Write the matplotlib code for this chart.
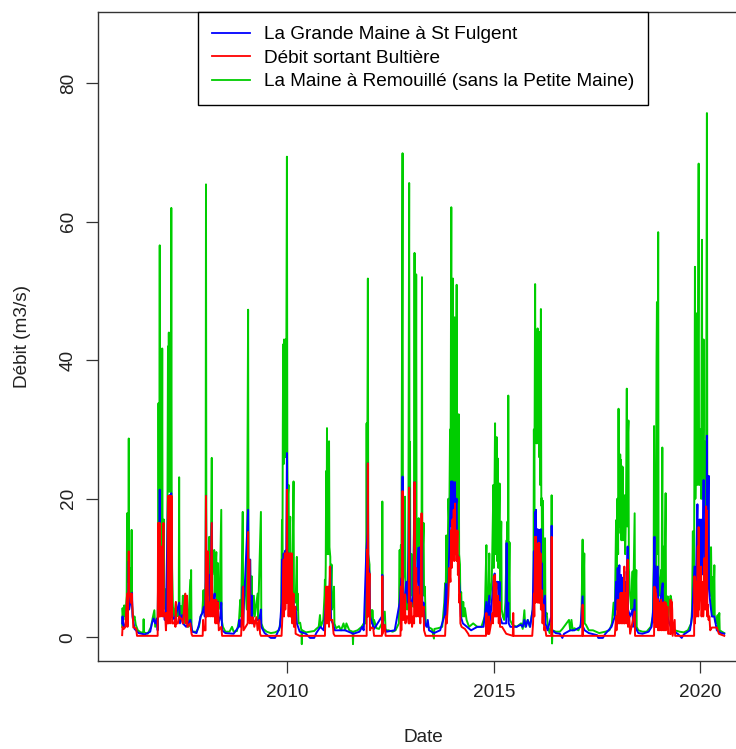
import matplotlib
matplotlib.use("Agg")
import matplotlib.pyplot as plt

plt.rcParams['font.family'] = ['Liberation Sans', 'DejaVu Sans']

# ---- data (decimal year, flow m3/s) ----
series_labels = ["La Grande Maine à St Fulgent", "Débit sortant Bultière",
                 "La Maine à Remouillé (sans la Petite Maine)"]
series_colors = ["#0000FF", "#FF0000", "#00CD00"]
x_ticks = [2010, 2015, 2020]
y_ticks = [0, 20, 40, 60, 80]

remouille_pts = [
(2006.00,1.5),(2006.01,4.2),(2006.03,2.5),(2006.05,4.6),(2006.08,3.0),(2006.11,6.0),(2006.12,17.9),(2006.13,8.0),(2006.15,12.0),(2006.16,28.7),(2006.17,9.0),(2006.19,6.3),(2006.21,10.0),(2006.22,5.5),(2006.23,15.5),(2006.24,4.5),(2006.27,2.5),(2006.30,3.0),(2006.33,1.8),(2006.38,1.0),(2006.45,0.7),(2006.51,0.7),(2006.52,2.6),(2006.53,0.7),(2006.62,0.5),(2006.70,1.5),(2006.74,2.8),(2006.78,3.9),(2006.80,1.5),(2006.84,2.5),(2006.86,1.8),
(2006.87,8.0),(2006.88,33.8),(2006.89,15.0),(2006.90,18.0),(2006.91,56.6),(2006.92,14.0),(2006.93,18.0),(2006.94,10.0),(2006.96,16.0),(2006.97,41.7),(2006.98,9.0),(2007.00,6.0),(2007.01,17.0),(2007.02,5.0),(2007.05,4.0),(2007.07,7.0),(2007.09,4.5),(2007.11,42.0),(2007.12,22.0),(2007.13,44.0),(2007.14,21.0),(2007.15,43.0),(2007.16,22.0),(2007.17,44.0),(2007.18,21.0),(2007.19,62.0),(2007.20,20.0),(2007.21,10.0),(2007.23,4.4),(2007.26,3.0),(2007.30,4.9),(2007.32,3.0),(2007.35,4.0),(2007.37,3.0),(2007.38,23.1),(2007.39,3.0),(2007.42,4.5),(2007.45,3.0),(2007.47,6.0),(2007.49,2.0),(2007.52,6.2),(2007.54,2.0),(2007.58,3.5),(2007.60,1.5),(2007.65,8.3),(2007.66,1.5),(2007.67,9.7),(2007.68,1.0),(2007.72,0.8),(2007.80,0.8),(2007.86,1.5),(2007.90,3.0),(2007.94,3.5),(2007.97,6.8),(2007.99,4.0),
(2008.02,8.0),(2008.03,65.4),(2008.04,9.0),(2008.07,11.0),(2008.08,6.0),(2008.11,14.5),(2008.12,7.0),(2008.15,12.0),(2008.17,25.9),(2008.18,9.0),(2008.20,11.0),(2008.23,12.6),(2008.24,6.0),(2008.26,10.0),(2008.28,12.3),(2008.29,5.0),(2008.32,10.7),(2008.33,4.0),(2008.36,5.0),(2008.40,18.4),(2008.41,2.5),(2008.44,1.5),(2008.50,0.8),(2008.60,0.8),(2008.66,1.5),(2008.70,0.8),(2008.78,0.9),(2008.83,2.5),(2008.86,5.4),(2008.88,3.0),(2008.92,18.1),(2008.93,5.0),(2008.97,8.0),
(2009.00,6.0),(2009.02,4.0),(2009.05,47.3),(2009.06,10.0),(2009.10,11.2),(2009.11,4.0),(2009.14,8.8),(2009.15,3.0),(2009.19,6.0),(2009.21,3.0),(2009.28,6.3),(2009.29,2.5),(2009.36,18.1),(2009.37,2.0),(2009.42,1.2),(2009.50,0.8),(2009.60,0.6),(2009.70,0.7),(2009.80,1.0),(2009.85,3.0),(2009.87,16.9),(2009.88,8.0),(2009.89,30.0),(2009.90,42.3),(2009.91,25.0),(2009.92,43.0),(2009.93,28.0),(2009.94,42.7),(2009.95,26.0),(2009.96,43.0),(2009.97,30.0),(2009.99,69.4),
(2010.00,26.0),(2010.01,20.0),(2010.03,22.0),(2010.04,12.0),(2010.07,17.4),(2010.08,8.0),(2010.11,12.0),(2010.12,6.0),(2010.15,22.5),(2010.16,6.0),(2010.20,5.0),(2010.23,11.6),(2010.24,4.0),(2010.25,6.3),(2010.27,2.0),(2010.31,2.1),(2010.34,1.0),(2010.35,-1.0),(2010.36,1.0),(2010.45,0.7),(2010.55,0.8),(2010.65,0.9),(2010.70,1.2),(2010.76,1.5),(2010.79,3.2),(2010.81,1.5),(2010.87,2.5),(2010.90,6.0),(2010.91,8.3),(2010.92,5.0),(2010.93,10.5),(2010.94,24.0),(2010.95,12.0),(2010.96,30.2),(2010.97,14.0),(2010.98,24.0),(2010.99,12.0),
(2011.00,26.0),(2011.01,28.3),(2011.02,13.0),(2011.04,11.6),(2011.05,5.0),(2011.07,10.5),(2011.08,4.0),(2011.11,5.0),(2011.13,7.3),(2011.14,2.0),(2011.18,1.3),(2011.25,1.6),(2011.30,1.0),(2011.36,2.0),(2011.40,1.0),(2011.43,2.0),(2011.50,1.0),(2011.58,0.8),(2011.59,-1.0),(2011.60,0.8),(2011.70,1.0),(2011.80,1.5),(2011.85,2.0),(2011.90,2.0),(2011.91,10.7),(2011.92,30.9),(2011.93,12.0),(2011.95,51.8),(2011.96,12.0),(2011.99,10.5),
(2012.00,3.0),(2012.04,3.9),(2012.05,2.0),(2012.06,3.9),(2012.08,1.5),(2012.10,2.5),(2012.16,1.3),(2012.22,1.2),(2012.29,2.0),(2012.30,19.6),(2012.31,2.0),(2012.36,3.7),(2012.38,1.0),(2012.45,1.0),(2012.55,0.8),(2012.62,1.0),(2012.70,2.0),(2012.72,12.6),(2012.73,4.0),(2012.75,13.3),(2012.76,6.0),(2012.79,69.9),(2012.80,8.0),(2012.83,10.0),(2012.85,20.3),(2012.86,5.0),(2012.88,8.0),(2012.90,4.0),(2012.93,12.0),(2012.95,65.6),(2012.96,10.0),(2012.97,28.2),(2012.98,6.0),
(2013.01,12.0),(2013.03,5.0),(2013.05,4.4),(2013.07,20.0),(2013.08,55.5),(2013.09,15.0),(2013.11,25.0),(2013.12,52.4),(2013.13,12.0),(2013.16,10.0),(2013.18,17.2),(2013.19,6.0),(2013.22,8.0),(2013.25,12.0),(2013.26,52.0),(2013.27,10.0),(2013.30,16.5),(2013.31,6.0),(2013.33,7.3),(2013.35,2.0),(2013.40,1.5),(2013.50,1.2),(2013.55,-0.2),(2013.56,1.2),(2013.65,1.3),(2013.75,1.5),(2013.80,5.0),(2013.82,7.8),(2013.83,3.0),(2013.85,14.7),(2013.86,4.0),(2013.88,10.0),(2013.90,20.0),(2013.92,16.0),(2013.94,30.0),(2013.95,18.0),(2013.97,62.1),(2013.98,20.0),(2013.99,46.0),
(2014.00,18.0),(2014.01,51.8),(2014.02,17.0),(2014.03,44.0),(2014.04,20.0),(2014.05,46.2),(2014.06,17.0),(2014.07,40.0),(2014.08,19.0),(2014.10,50.9),(2014.11,16.0),(2014.13,30.0),(2014.14,15.0),(2014.15,32.2),(2014.16,12.0),(2014.18,10.5),(2014.19,5.0),(2014.21,6.5),(2014.22,4.7),(2014.24,3.0),(2014.26,5.1),(2014.28,3.0),(2014.30,4.2),(2014.34,2.5),(2014.40,1.5),(2014.50,2.0),(2014.60,1.5),(2014.70,1.5),(2014.78,3.0),(2014.82,13.3),(2014.83,4.0),(2014.86,3.0),(2014.89,12.1),(2014.90,5.0),(2014.95,8.0),(2014.97,15.0),(2014.99,22.0),
(2015.00,10.0),(2015.02,25.0),(2015.03,30.9),(2015.04,12.0),(2015.06,24.0),(2015.07,28.9),(2015.08,11.0),(2015.10,25.8),(2015.11,10.0),(2015.13,18.0),(2015.14,22.2),(2015.15,8.0),(2015.18,16.7),(2015.19,4.0),(2015.22,3.0),(2015.25,2.5),(2015.28,5.0),(2015.31,14.0),(2015.32,5.0),(2015.33,16.7),(2015.34,6.0),(2015.35,34.9),(2015.36,5.0),(2015.38,13.7),(2015.39,2.5),(2015.45,1.8),(2015.55,1.5),(2015.66,2.0),(2015.70,1.2),(2015.74,3.9),(2015.76,1.5),(2015.82,2.5),(2015.87,1.5),(2015.94,3.9),(2015.96,6.0),(2015.97,30.0),(2015.98,18.0),(2015.99,35.0),
(2016.00,51.0),(2016.01,30.0),(2016.02,44.0),(2016.03,28.0),(2016.04,44.0),(2016.05,30.0),(2016.06,44.6),(2016.07,28.0),(2016.09,40.0),(2016.10,26.0),(2016.11,44.1),(2016.12,22.0),(2016.14,47.4),(2016.15,19.0),(2016.16,20.1),(2016.17,10.0),(2016.19,19.7),(2016.20,8.0),(2016.21,9.7),(2016.22,5.0),(2016.24,14.3),(2016.25,3.0),(2016.28,3.5),(2016.31,1.5),(2016.35,0.6),(2016.39,2.0),(2016.40,20.5),(2016.41,-0.9),(2016.42,1.0),(2016.50,0.8),(2016.60,0.8),(2016.66,1.2),(2016.82,2.5),(2016.85,1.0),(2016.88,2.5),(2016.91,1.0),(2016.95,1.3),
(2017.05,1.0),(2017.12,2.0),(2017.15,14.1),(2017.16,3.0),(2017.19,12.1),(2017.20,2.0),(2017.23,1.8),(2017.30,1.0),(2017.40,1.0),(2017.55,0.6),(2017.70,0.8),(2017.80,1.0),(2017.86,2.0),(2017.90,5.0),(2017.93,3.0),(2017.96,16.9),(2017.97,8.0),(2017.99,20.0),
(2018.01,12.0),(2018.02,33.0),(2018.03,16.0),(2018.05,20.0),(2018.06,26.4),(2018.07,15.0),(2018.08,25.6),(2018.09,14.0),(2018.10,24.7),(2018.11,16.0),(2018.12,24.6),(2018.13,14.0),(2018.15,18.0),(2018.17,20.5),(2018.18,12.0),(2018.20,18.0),(2018.22,35.9),(2018.23,16.0),(2018.24,28.0),(2018.26,31.3),(2018.27,10.0),(2018.30,6.0),(2018.33,4.0),(2018.36,9.5),(2018.37,3.0),(2018.41,17.9),(2018.42,3.0),(2018.45,9.7),(2018.46,1.5),(2018.50,1.0),(2018.60,0.8),(2018.70,0.8),(2018.80,1.5),(2018.85,3.0),(2018.87,10.0),(2018.88,30.5),(2018.89,14.0),(2018.91,14.2),(2018.92,8.0),(2018.94,40.0),(2018.95,48.4),(2018.96,12.0),(2018.98,58.5),(2018.99,9.0),
(2019.02,6.0),(2019.05,9.7),(2019.06,4.0),(2019.08,27.4),(2019.09,5.0),(2019.12,13.1),(2019.13,4.0),(2019.16,20.8),(2019.17,4.0),(2019.21,5.9),(2019.22,2.0),(2019.25,5.0),(2019.28,6.0),(2019.30,5.4),(2019.31,1.5),(2019.38,1.0),(2019.50,0.8),(2019.60,0.7),(2019.70,1.0),(2019.78,2.0),(2019.80,4.0),(2019.82,15.3),(2019.83,5.0),(2019.85,12.0),(2019.86,30.0),(2019.87,53.5),(2019.88,20.0),(2019.90,30.0),(2019.92,46.8),(2019.93,22.0),(2019.94,35.0),(2019.96,68.4),(2019.97,22.0),(2019.99,22.0),
(2020.00,30.0),(2020.02,20.0),(2020.04,57.4),(2020.05,20.0),(2020.07,30.0),(2020.08,43.0),(2020.09,19.0),(2020.10,28.3),(2020.11,18.0),(2020.14,25.0),(2020.16,75.7),(2020.17,20.0),(2020.20,23.3),(2020.21,8.0),(2020.24,6.0),(2020.26,13.0),(2020.28,4.0),(2020.30,8.7),(2020.31,3.0),(2020.34,10.4),(2020.35,2.5),(2020.38,2.0),(2020.42,3.2),(2020.43,1.0),(2020.46,3.5),(2020.47,1.0),(2020.52,0.8),(2020.58,0.6)]

stfulgent_pts = [
(2006.00,2.0),(2006.01,3.0),(2006.03,1.5),(2006.06,1.5),(2006.10,2.5),(2006.13,6.0),(2006.14,3.0),(2006.16,11.0),(2006.17,4.0),(2006.20,5.0),(2006.24,6.4),(2006.25,3.0),(2006.30,1.2),(2006.40,0.6),(2006.55,0.4),(2006.68,0.8),(2006.72,2.0),(2006.76,2.7),(2006.80,2.0),(2006.84,2.7),(2006.86,1.0),
(2006.88,16.0),(2006.89,6.0),(2006.91,21.3),(2006.92,8.0),(2006.95,10.0),(2006.97,13.0),(2006.98,4.0),(2007.01,3.5),(2007.03,2.5),(2007.06,3.0),(2007.11,20.0),(2007.12,5.0),(2007.14,20.5),(2007.15,4.0),(2007.17,20.5),(2007.19,20.8),(2007.20,4.0),(2007.22,3.0),(2007.27,2.5),(2007.38,5.0),(2007.40,2.0),(2007.45,3.2),(2007.47,2.0),(2007.55,1.5),(2007.65,2.5),(2007.70,0.8),(2007.80,0.6),(2007.86,1.8),(2007.90,3.0),(2007.94,3.5),(2007.98,4.4),
(2008.00,3.0),(2008.02,6.0),(2008.03,20.4),(2008.04,5.0),(2008.07,7.0),(2008.11,9.0),(2008.12,4.0),(2008.17,16.5),(2008.18,4.0),(2008.21,5.0),(2008.24,6.3),(2008.25,3.0),(2008.28,4.0),(2008.32,5.1),(2008.33,2.0),(2008.38,3.0),(2008.40,5.0),(2008.42,1.0),(2008.50,0.6),(2008.70,0.5),(2008.82,1.5),(2008.84,2.5),(2008.86,1.5),(2008.90,3.0),(2008.92,7.3),(2008.93,2.0),
(2009.05,18.4),(2009.06,4.0),(2009.10,11.2),(2009.11,3.0),(2009.14,6.0),(2009.15,2.0),(2009.25,2.5),(2009.32,2.5),(2009.36,4.0),(2009.37,1.5),(2009.45,0.6),(2009.60,-0.1),(2009.70,-0.1),(2009.75,0.5),(2009.82,1.5),(2009.86,5.0),(2009.87,11.2),(2009.88,4.0),(2009.91,12.1),(2009.93,6.0),(2009.95,12.5),(2009.97,8.0),(2009.99,26.6),
(2010.00,8.0),(2010.03,12.1),(2010.04,5.0),(2010.07,12.0),(2010.08,4.0),(2010.15,6.0),(2010.16,3.0),(2010.20,4.4),(2010.23,2.0),(2010.30,0.8),(2010.45,0.5),(2010.55,-0.1),(2010.65,-0.1),(2010.70,0.6),(2010.80,1.5),(2010.88,1.0),(2010.92,4.0),(2010.96,6.8),(2010.97,3.0),
(2011.01,5.0),(2011.04,10.2),(2011.05,5.5),(2011.06,2.5),(2011.10,2.0),(2011.15,1.0),(2011.30,1.0),(2011.40,1.0),(2011.60,0.5),(2011.75,0.8),(2011.81,1.5),(2011.85,1.0),(2011.91,12.0),(2011.94,15.0),(2011.95,25.1),(2011.96,10.5),(2011.99,9.2),
(2012.00,3.0),(2012.10,1.2),(2012.29,3.0),(2012.30,9.0),(2012.31,2.0),(2012.40,0.8),(2012.60,1.0),(2012.72,5.0),(2012.76,8.5),(2012.77,4.0),(2012.79,23.2),(2012.80,5.0),(2012.85,6.0),(2012.88,8.0),(2012.92,5.0),(2012.95,21.6),(2012.97,11.2),(2012.98,4.0),
(2013.05,6.0),(2013.08,22.4),(2013.09,5.0),(2013.13,8.0),(2013.17,12.9),(2013.18,6.0),(2013.21,13.0),(2013.22,5.0),(2013.26,17.8),(2013.27,4.0),(2013.30,5.0),(2013.33,2.0),(2013.37,1.5),(2013.40,2.5),(2013.43,1.0),(2013.55,0.6),(2013.70,1.0),(2013.80,3.0),(2013.84,7.7),(2013.85,3.0),(2013.90,8.0),(2013.93,15.0),(2013.97,22.5),(2013.98,16.0),
(2014.00,22.5),(2014.01,17.0),(2014.03,21.5),(2014.04,16.0),(2014.06,22.4),(2014.07,15.0),(2014.08,18.9),(2014.10,20.0),(2014.11,12.0),(2014.14,11.6),(2014.16,8.0),(2014.18,6.3),(2014.20,3.0),(2014.25,2.0),(2014.35,1.5),(2014.45,1.0),(2014.60,1.5),(2014.75,1.5),(2014.82,5.1),(2014.83,2.0),(2014.89,6.0),(2014.90,2.0),(2014.95,5.0),(2014.99,8.0),
(2015.02,9.2),(2015.03,5.0),(2015.07,8.0),(2015.10,8.0),(2015.12,4.0),(2015.14,8.0),(2015.15,3.0),(2015.20,2.0),(2015.30,2.0),(2015.31,13.6),(2015.32,3.0),(2015.35,5.0),(2015.36,2.0),(2015.40,1.5),(2015.55,1.5),(2015.65,1.8),(2015.70,1.5),(2015.74,2.5),(2015.78,1.5),(2015.82,2.5),(2015.88,1.5),(2015.94,4.0),(2015.97,12.4),(2015.98,6.0),
(2016.00,18.1),(2016.01,10.0),(2016.02,18.4),(2016.03,10.0),(2016.06,15.6),(2016.07,10.0),(2016.10,15.5),(2016.11,8.0),(2016.14,15.6),(2016.15,6.0),(2016.16,10.7),(2016.18,4.0),(2016.24,6.0),(2016.25,2.0),(2016.30,1.0),(2016.39,3.0),(2016.40,16.1),(2016.41,1.0),(2016.50,0.6),(2016.60,0.5),(2016.66,-0.1),(2016.70,0.5),(2016.85,1.0),(2016.95,1.0),
(2017.10,1.5),(2017.15,5.9),(2017.16,1.5),(2017.20,1.0),(2017.30,0.6),(2017.50,0.3),(2017.53,-0.1),(2017.64,-0.1),(2017.70,0.5),(2017.85,1.5),(2017.93,3.0),(2017.96,8.0),(2017.97,4.0),
(2018.00,10.0),(2018.01,5.0),(2018.04,10.4),(2018.05,5.0),(2018.08,9.0),(2018.09,5.0),(2018.12,8.6),(2018.13,4.0),(2018.16,9.5),(2018.17,5.0),(2018.20,8.0),(2018.22,6.0),(2018.24,13.1),(2018.25,4.0),(2018.30,3.0),(2018.36,4.0),(2018.37,1.5),(2018.41,5.4),(2018.42,1.5),(2018.50,0.6),(2018.60,0.5),(2018.75,0.8),(2018.82,1.5),(2018.86,4.0),(2018.89,14.5),(2018.90,6.0),(2018.91,10.3),(2018.92,5.0),(2018.95,8.0),(2018.97,10.2),(2018.98,4.0),
(2019.02,5.0),(2019.05,6.0),(2019.09,7.8),(2019.10,3.0),(2019.13,5.1),(2019.14,2.0),(2019.20,3.0),(2019.25,2.0),(2019.32,1.0),(2019.45,0.5),(2019.55,-0.1),(2019.60,0.4),(2019.75,1.0),(2019.80,3.0),(2019.86,10.2),(2019.87,5.0),(2019.90,10.0),(2019.93,19.2),(2019.94,8.0),(2019.96,12.0),(2019.98,17.0),
(2020.00,8.0),(2020.02,17.0),(2020.03,9.0),(2020.06,15.0),(2020.08,22.7),(2020.10,10.0),(2020.13,16.5),(2020.15,12.0),(2020.16,29.1),(2020.17,10.0),(2020.20,23.3),(2020.21,7.0),(2020.24,5.0),(2020.28,3.0),(2020.34,3.0),(2020.40,1.0),(2020.50,0.6),(2020.58,0.5)]

bultiere_pts = [
(2006.00,0.3),(2006.01,1.5),(2006.04,1.2),(2006.08,1.5),(2006.12,6.3),(2006.13,1.5),(2006.15,6.3),(2006.16,12.4),(2006.17,6.3),(2006.19,6.3),(2006.21,5.0),(2006.23,6.3),(2006.25,4.2),(2006.27,1.4),(2006.30,1.4),(2006.34,1.2),(2006.36,0.2),
(2006.86,0.2),(2006.87,16.5),(2006.88,3.0),(2006.89,16.5),(2006.90,3.0),(2006.91,16.5),(2006.92,3.0),(2006.93,4.0),(2006.95,10.0),(2006.96,13.1),(2006.97,3.0),(2006.99,12.0),(2007.00,16.5),(2007.01,3.0),(2007.04,3.5),(2007.06,1.0),(2007.08,3.5),(2007.10,2.0),(2007.11,20.4),(2007.12,2.0),(2007.13,20.4),(2007.14,3.0),(2007.15,20.4),(2007.16,2.0),(2007.17,20.4),(2007.18,3.0),(2007.19,20.4),(2007.20,20.4),(2007.21,2.0),(2007.25,2.0),(2007.28,2.5),(2007.29,1.5),(2007.30,5.1),(2007.31,2.0),(2007.35,2.0),(2007.38,3.0),(2007.45,2.5),(2007.47,2.0),(2007.53,6.3),(2007.54,2.0),(2007.57,6.0),(2007.58,1.5),(2007.65,2.0),(2007.68,0.5),(2007.70,0.2),(2007.95,0.2),(2007.96,2.5),(2007.98,1.0),
(2008.02,1.0),(2008.03,20.4),(2008.04,3.0),(2008.07,12.4),(2008.08,3.0),(2008.11,5.0),(2008.13,3.0),(2008.17,16.5),(2008.18,3.0),(2008.20,5.4),(2008.22,3.0),(2008.24,5.4),(2008.26,2.0),(2008.28,5.4),(2008.30,2.0),(2008.32,5.0),(2008.34,1.0),(2008.40,1.5),(2008.42,0.2),(2008.88,0.2),(2008.93,7.3),(2008.94,1.0),
(2009.04,2.0),(2009.05,15.2),(2009.06,2.5),(2009.08,11.2),(2009.09,2.0),(2009.12,2.9),(2009.14,2.0),(2009.17,2.9),(2009.20,1.5),(2009.25,2.9),(2009.28,1.0),(2009.32,2.5),(2009.34,0.5),(2009.36,0.2),(2009.86,0.2),(2009.88,3.0),(2009.91,11.2),(2009.92,3.0),(2009.94,12.1),(2009.95,4.0),(2009.97,12.1),(2009.98,5.0),(2009.99,21.3),
(2010.00,5.0),(2010.02,12.1),(2010.03,3.0),(2010.06,12.1),(2010.07,3.0),(2010.08,12.1),(2010.09,3.0),(2010.11,12.1),(2010.12,2.0),(2010.15,6.3),(2010.16,1.5),(2010.19,4.4),(2010.20,0.5),(2010.30,0.2),(2010.91,0.2),(2010.94,7.3),(2010.95,2.0),(2010.97,7.3),(2010.98,2.0),
(2011.00,7.3),(2011.01,1.5),(2011.03,10.2),(2011.04,2.5),(2011.06,2.5),(2011.09,2.5),(2011.12,0.5),(2011.15,0.2),(2011.92,0.2),(2011.93,12.6),(2011.94,3.0),(2011.95,25.1),(2011.96,3.0),(2011.99,9.2),
(2012.00,1.0),(2012.03,1.4),(2012.08,1.3),(2012.10,0.2),(2012.29,0.2),(2012.30,8.8),(2012.31,0.5),(2012.36,1.8),(2012.38,0.2),(2012.74,0.2),(2012.75,7.3),(2012.76,1.0),(2012.79,21.1),(2012.80,2.5),(2012.83,2.5),(2012.85,6.2),(2012.86,2.0),(2012.88,3.0),(2012.92,3.0),(2012.94,2.0),(2012.95,21.6),(2012.96,2.0),(2012.99,2.5),
(2013.00,5.0),(2013.02,1.5),(2013.05,3.0),(2013.07,2.0),(2013.08,22.4),(2013.09,3.0),(2013.12,10.0),(2013.13,3.0),(2013.17,7.3),(2013.18,3.0),(2013.20,6.0),(2013.22,2.0),(2013.25,17.9),(2013.26,3.0),(2013.30,4.4),(2013.31,1.0),(2013.35,0.2),(2013.82,0.2),(2013.84,3.0),(2013.86,2.0),(2013.90,6.0),(2013.92,10.0),(2013.95,8.0),(2013.97,15.5),(2013.98,10.0),
(2014.00,17.0),(2014.01,12.0),(2014.03,18.4),(2014.04,11.0),(2014.06,19.3),(2014.07,12.0),(2014.09,15.4),(2014.10,11.0),(2014.12,15.4),(2014.13,9.0),(2014.15,11.6),(2014.16,5.0),(2014.18,6.3),(2014.19,2.0),(2014.22,1.5),(2014.30,1.2),(2014.38,0.5),(2014.40,0.2),(2014.81,0.2),(2014.82,3.5),(2014.83,0.5),(2014.87,0.5),(2014.88,3.0),(2014.89,0.5),(2014.95,2.5),(2014.97,3.5),(2014.98,2.0),
(2015.00,8.8),(2015.01,3.0),(2015.03,9.0),(2015.04,3.0),(2015.06,7.8),(2015.07,3.0),(2015.10,6.0),(2015.12,2.0),(2015.14,5.1),(2015.15,1.5),(2015.20,1.5),(2015.30,0.5),(2015.46,0.2),(2015.47,3.5),(2015.48,0.2),(2015.93,0.2),(2015.95,2.0),(2015.97,6.3),(2015.98,3.0),
(2016.00,14.5),(2016.01,5.0),(2016.02,14.5),(2016.03,6.0),(2016.05,12.0),(2016.06,5.0),(2016.08,13.6),(2016.09,5.0),(2016.10,13.6),(2016.11,5.0),(2016.13,12.1),(2016.14,4.0),(2016.16,6.8),(2016.18,2.0),(2016.20,4.7),(2016.22,1.0),(2016.24,1.5),(2016.27,0.2),(2016.39,0.2),(2016.40,14.5),(2016.41,0.2),
(2017.14,0.2),(2017.15,4.7),(2017.16,0.2),(2017.93,0.2),(2017.96,3.0),(2017.97,1.0),
(2018.00,5.4),(2018.01,2.0),(2018.03,5.4),(2018.04,2.0),(2018.07,6.4),(2018.08,2.0),(2018.10,6.4),(2018.11,2.0),(2018.14,6.4),(2018.15,2.0),(2018.16,10.2),(2018.17,2.0),(2018.20,6.4),(2018.21,2.0),(2018.24,11.2),(2018.25,1.5),(2018.28,3.0),(2018.30,0.5),(2018.41,3.7),(2018.42,0.2),(2018.88,0.2),(2018.89,7.3),(2018.90,2.0),(2018.91,7.0),(2018.92,1.5),(2018.93,6.3),(2018.94,1.5),(2018.97,5.5),(2018.98,1.0),
(2019.01,5.0),(2019.02,1.0),(2019.05,5.4),(2019.06,1.0),(2019.09,5.0),(2019.10,1.0),(2019.13,5.1),(2019.14,1.0),(2019.16,5.0),(2019.17,1.0),(2019.21,4.4),(2019.22,0.5),(2019.27,0.5),(2019.28,5.4),(2019.29,0.5),(2019.31,5.1),(2019.32,3.9),(2019.33,0.2),(2019.38,2.5),(2019.39,0.2),(2019.85,0.2),(2019.86,8.8),(2019.87,2.0),(2019.90,8.0),(2019.91,3.0),(2019.94,13.1),(2019.95,3.0),(2019.96,15.9),(2019.97,4.0),
(2020.00,8.0),(2020.02,10.2),(2020.03,3.0),(2020.06,8.0),(2020.07,3.0),(2020.08,4.4),(2020.10,11.4),(2020.12,4.0),(2020.14,18.9),(2020.15,4.0),(2020.16,18.3),(2020.17,3.0),(2020.18,4.7),(2020.20,2.5),(2020.22,3.0),(2020.24,1.0),(2020.28,1.4),(2020.40,1.4),(2020.45,0.5),(2020.58,0.2)]


def split(points):
    pts = sorted(points, key=lambda p: p[0])
    return [p[0] for p in pts], [p[1] for p in pts]


W, H = 736, 749
fig = plt.figure(figsize=(W / 100, H / 100), dpi=100)
# axes box: left 98px, right beyond the image edge (R plot cropped), top 12px, bottom 661px
ax = fig.add_axes([98.2 / W, (H - 660.7) / H, 649.6 / W, 649.0 / H])

lw = 1.4
t_g, v_g = split(remouille_pts)
t_b, v_b = split(stfulgent_pts)
t_r, v_r = split(bultiere_pts)
l_g, = ax.plot(t_g, v_g, color=series_colors[2], lw=lw, zorder=2)
l_b, = ax.plot(t_b, v_b, color=series_colors[0], lw=lw, zorder=3)
l_r, = ax.plot(t_r, v_r, color=series_colors[1], lw=lw, zorder=4)

ax.set_xlim(2005.42, 2021.15)
ax.set_ylim(-3.39, 90.34)
ax.set_xticks(x_ticks)
ax.set_xticklabels([str(t) for t in x_ticks])
ax.set_yticks(y_ticks)
ax.set_yticklabels([str(t) for t in y_ticks], rotation=90, va='center')

fs = 13.7
ax.tick_params(axis='both', direction='out', length=8.5, width=0.9,
               color='#333333', labelsize=fs, labelcolor='#222222')
ax.tick_params(axis='y', pad=7)
ax.tick_params(axis='x', pad=8.5)
for s in ['left', 'bottom', 'top', 'right']:
    ax.spines[s].set_color('#333333')
    ax.spines[s].set_linewidth(1.0)

ax.set_xlabel('Date', fontsize=fs, color='#222222')
ax.set_ylabel('Débit (m3/s)', fontsize=fs, color='#222222')
ax.xaxis.set_label_coords(0.5, -0.105)
ax.yaxis.set_label_coords(-0.1034, 0.5)

leg = ax.legend([l_b, l_r, l_g], series_labels, loc='upper center',
                bbox_to_anchor=(0.5, 1.0), borderaxespad=0, fontsize=fs,
                frameon=True, fancybox=False, framealpha=1, edgecolor='black',
                handlelength=2.0, handletextpad=0.7, borderpad=0.75,
                labelspacing=0.33)
leg.get_frame().set_linewidth(1.0)
for line in leg.get_lines():
    line.set_linewidth(1.3)

fig.savefig('out.png', dpi=100)
